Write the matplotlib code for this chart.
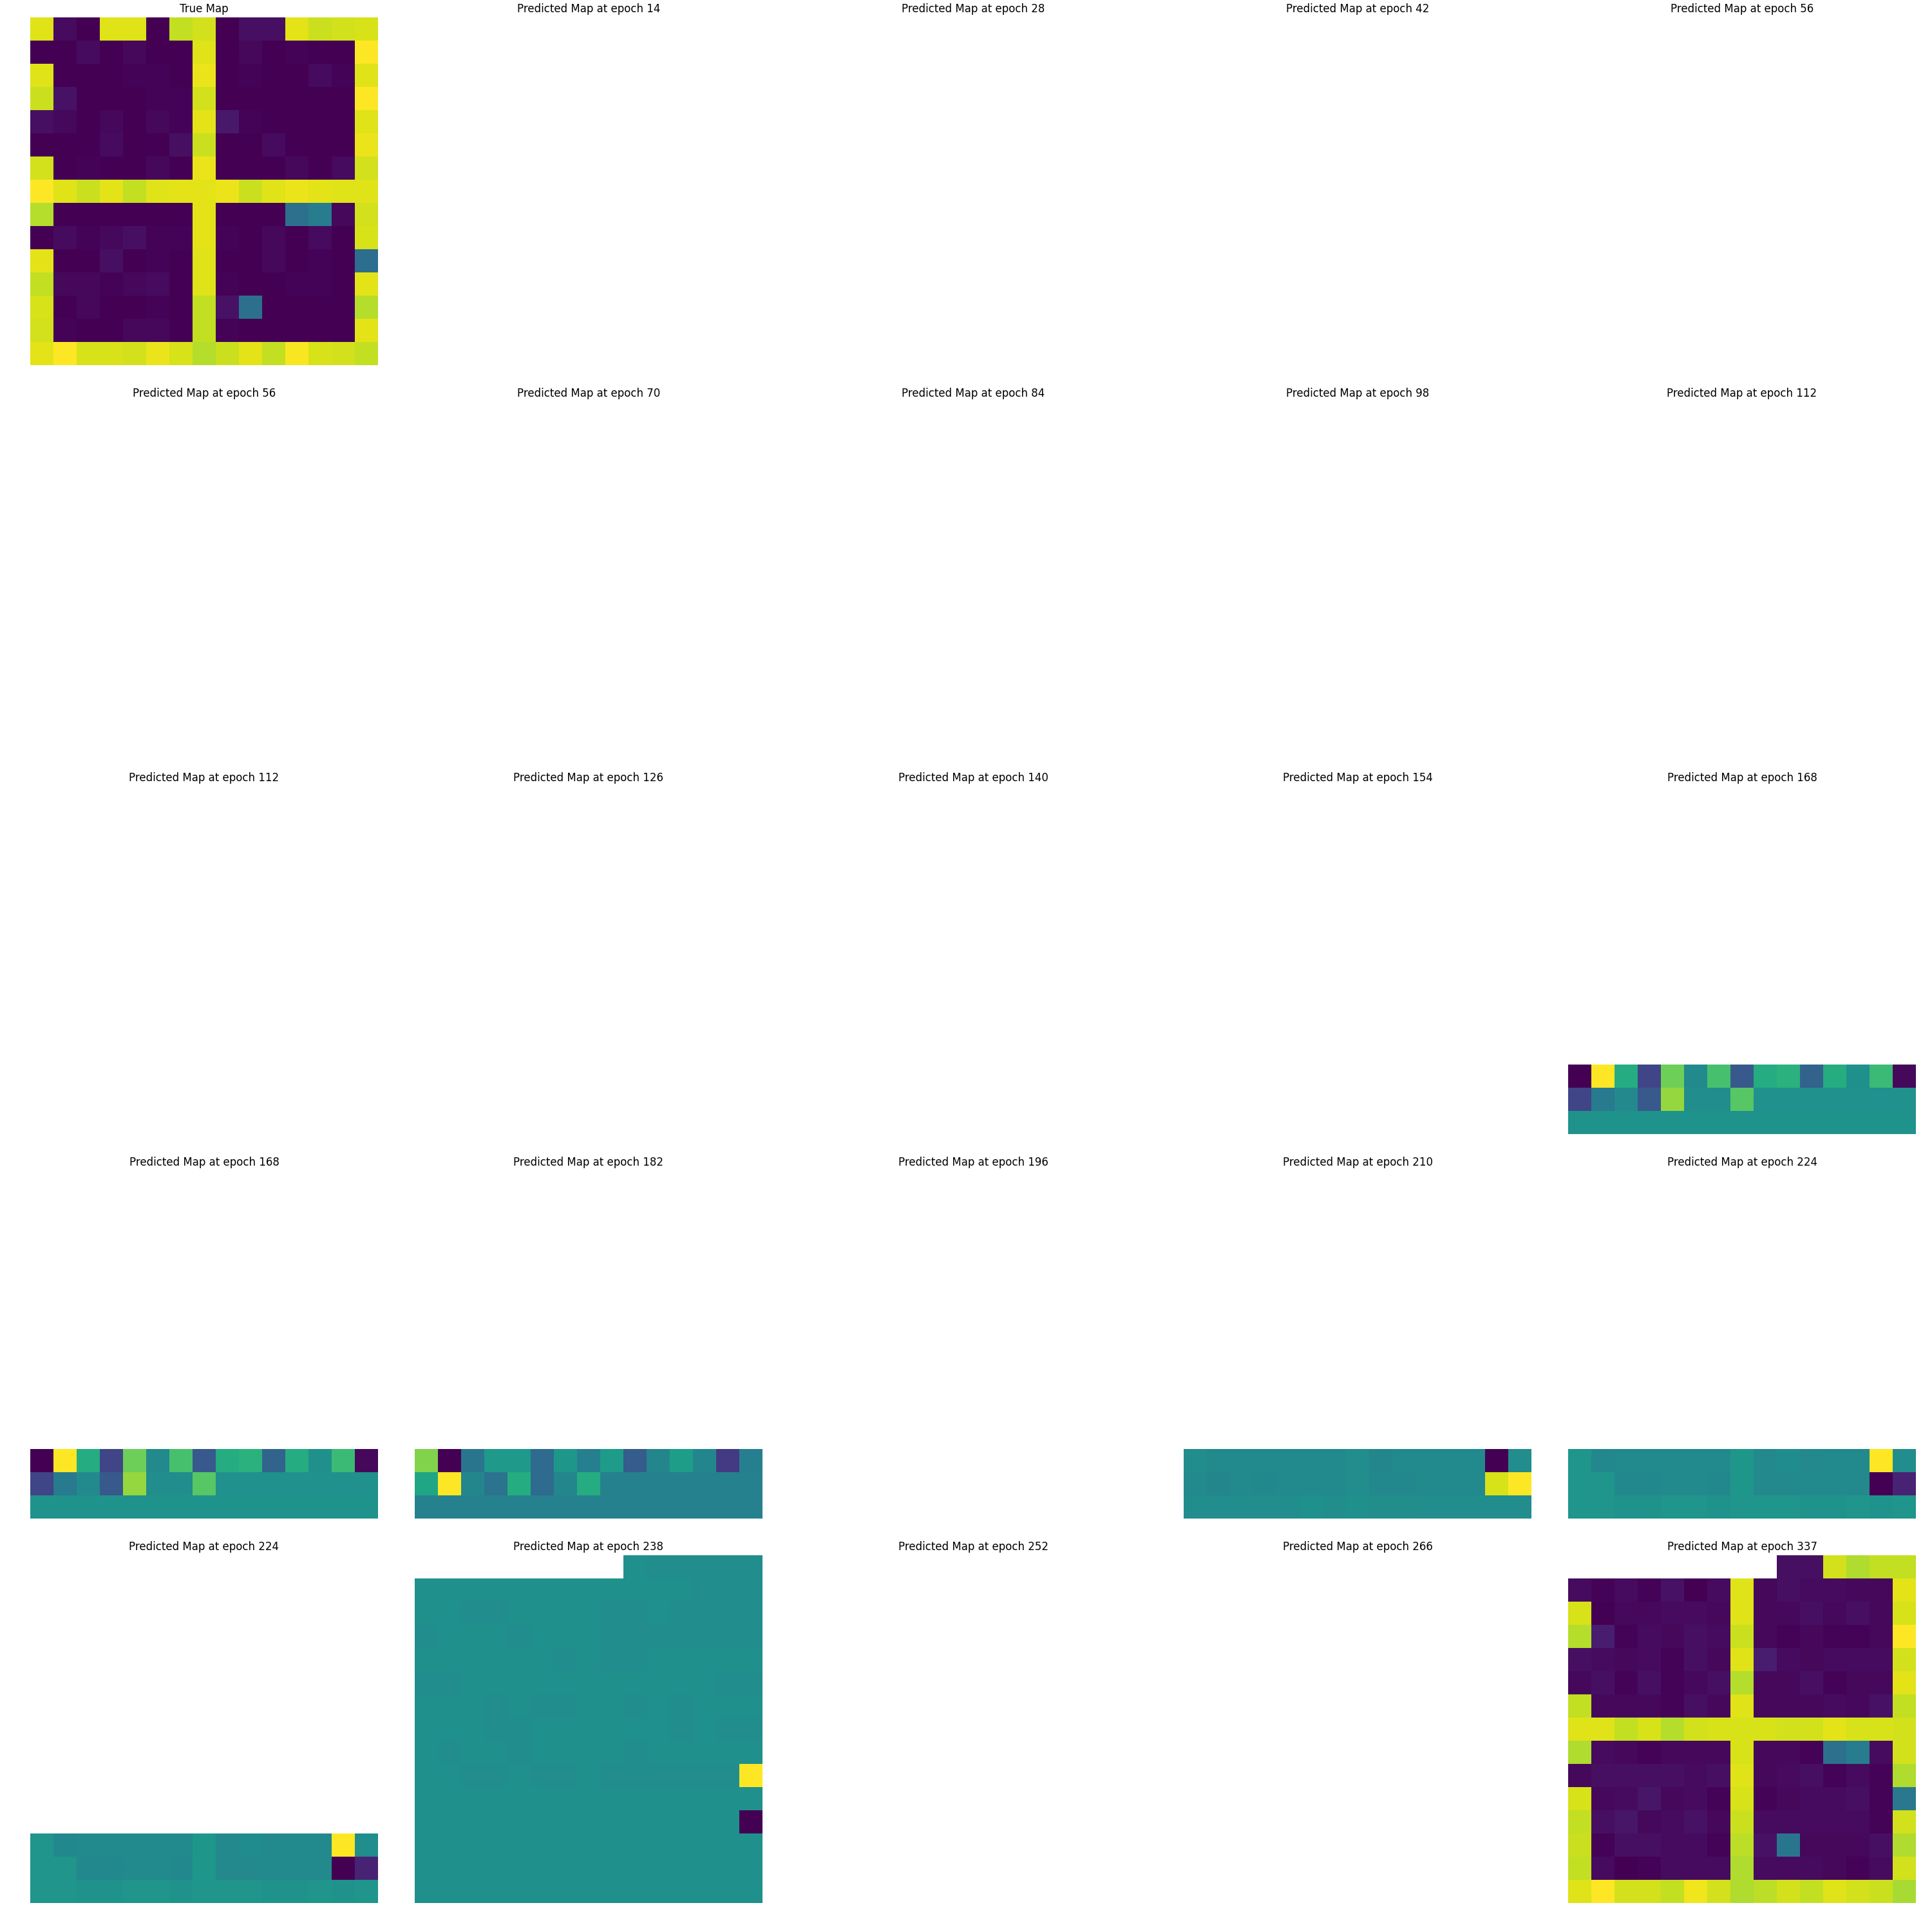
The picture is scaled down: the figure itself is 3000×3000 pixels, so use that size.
import numpy as np

import matplotlib
matplotlib.use('Agg')
import matplotlib.pyplot as plt

matplotlib.rcParams.update({'font.size': 10})

n = 15

# ground truth map (normalised 0..1)
true_map = [
    [0.95, 0.03, 0.00, 0.95, 0.95, 0.00, 0.91, 0.93, 0.00, 0.04, 0.04, 0.96, 0.92, 0.93, 0.94],
    [0.00, 0.00, 0.03, 0.00, 0.02, 0.00, 0.00, 0.95, 0.00, 0.02, 0.00, 0.01, 0.00, 0.00, 1.00],
    [0.95, 0.00, 0.00, 0.00, 0.01, 0.01, 0.00, 0.97, 0.00, 0.01, 0.00, 0.00, 0.03, 0.01, 0.95],
    [0.92, 0.05, 0.00, 0.00, 0.00, 0.01, 0.01, 0.93, 0.00, 0.00, 0.00, 0.00, 0.00, 0.00, 1.00],
    [0.04, 0.02, 0.00, 0.02, 0.00, 0.02, 0.01, 0.96, 0.07, 0.01, 0.00, 0.00, 0.00, 0.00, 0.95],
    [0.00, 0.00, 0.00, 0.03, 0.00, 0.00, 0.04, 0.92, 0.00, 0.00, 0.03, 0.00, 0.00, 0.00, 0.97],
    [0.93, 0.00, 0.01, 0.00, 0.00, 0.02, 0.00, 0.97, 0.00, 0.00, 0.00, 0.02, 0.00, 0.03, 0.93],
    [1.00, 0.95, 0.92, 0.96, 0.91, 0.95, 0.96, 0.96, 0.97, 0.92, 0.95, 0.97, 0.96, 0.95, 0.95],
    [0.89, 0.00, 0.00, 0.00, 0.00, 0.00, 0.00, 0.96, 0.00, 0.00, 0.00, 0.37, 0.42, 0.02, 0.93],
    [0.00, 0.03, 0.01, 0.02, 0.04, 0.01, 0.01, 0.96, 0.01, 0.00, 0.02, 0.00, 0.03, 0.00, 0.94],
    [0.96, 0.00, 0.00, 0.04, 0.00, 0.01, 0.00, 0.95, 0.00, 0.00, 0.02, 0.00, 0.01, 0.00, 0.36],
    [0.91, 0.02, 0.02, 0.01, 0.02, 0.03, 0.00, 0.95, 0.01, 0.00, 0.00, 0.01, 0.01, 0.00, 0.96],
    [0.94, 0.00, 0.02, 0.00, 0.00, 0.01, 0.00, 0.91, 0.05, 0.37, 0.00, 0.00, 0.00, 0.00, 0.89],
    [0.93, 0.01, 0.00, 0.00, 0.02, 0.02, 0.00, 0.91, 0.01, 0.00, 0.00, 0.00, 0.00, 0.00, 0.96],
    [0.96, 1.00, 0.94, 0.94, 0.93, 0.97, 0.94, 0.89, 0.92, 0.96, 0.91, 0.99, 0.94, 0.93, 0.91],
]

# predicted rows 12..14 (everything above still unknown)
pred_168 = [
    [0.00, 1.00, 0.62, 0.21, 0.78, 0.48, 0.71, 0.28, 0.62, 0.64, 0.32, 0.62, 0.50, 0.68, 0.02],
    [0.21, 0.41, 0.47, 0.28, 0.84, 0.49, 0.49, 0.74, 0.505, 0.505, 0.505, 0.505, 0.505, 0.505, 0.505],
    [0.515, 0.515, 0.515, 0.515, 0.515, 0.515, 0.515, 0.515, 0.515, 0.515, 0.515, 0.515, 0.515, 0.515, 0.515],
]
pred_182 = [
    [0.81, 0.00, 0.39, 0.54, 0.54, 0.35, 0.53, 0.43, 0.55, 0.29, 0.46, 0.56, 0.46, 0.17, 0.43],
    [0.59, 1.00, 0.46, 0.38, 0.62, 0.35, 0.46, 0.62, 0.44, 0.44, 0.44, 0.44, 0.44, 0.44, 0.44],
    [0.44, 0.44, 0.44, 0.44, 0.44, 0.44, 0.44, 0.44, 0.44, 0.44, 0.44, 0.44, 0.44, 0.44, 0.44],
]
pred_210 = [
    [0.49, 0.475, 0.475, 0.475, 0.475, 0.475, 0.475, 0.49, 0.46, 0.475, 0.475, 0.475, 0.475, 0.00, 0.49],
    [0.475, 0.46, 0.48, 0.465, 0.475, 0.475, 0.475, 0.49, 0.465, 0.465, 0.475, 0.475, 0.475, 0.94, 1.00],
    [0.49, 0.49, 0.49, 0.49, 0.49, 0.50, 0.495, 0.50, 0.495, 0.495, 0.49, 0.49, 0.49, 0.49, 0.49],
]
pred_224 = [
    [0.52, 0.465, 0.475, 0.475, 0.475, 0.475, 0.475, 0.53, 0.47, 0.485, 0.47, 0.475, 0.475, 1.00, 0.49],
    [0.52, 0.52, 0.465, 0.465, 0.48, 0.48, 0.465, 0.53, 0.47, 0.47, 0.48, 0.48, 0.47, 0.00, 0.10],
    [0.52, 0.52, 0.515, 0.515, 0.52, 0.52, 0.515, 0.52, 0.52, 0.52, 0.515, 0.515, 0.52, 0.515, 0.52],
]

# epoch 238: row 0 only known from column 9 on
pred_238_top = [0.50, 0.49, 0.49, 0.49, 0.49, 0.49]
pred_238 = [
    [0.50, 0.50, 0.50, 0.50, 0.50, 0.50, 0.50, 0.50, 0.50, 0.50, 0.50, 0.50, 0.49, 0.49, 0.49],
    [0.50, 0.50, 0.49, 0.49, 0.50, 0.50, 0.50, 0.50, 0.49, 0.49, 0.50, 0.49, 0.49, 0.49, 0.49],
    [0.49, 0.50, 0.50, 0.50, 0.49, 0.50, 0.50, 0.50, 0.49, 0.49, 0.49, 0.49, 0.49, 0.49, 0.49],
    [0.50, 0.50, 0.50, 0.50, 0.50, 0.50, 0.49, 0.50, 0.49, 0.49, 0.50, 0.50, 0.50, 0.50, 0.50],
    [0.49, 0.49, 0.50, 0.50, 0.50, 0.50, 0.50, 0.50, 0.50, 0.50, 0.50, 0.50, 0.50, 0.49, 0.49],
    [0.50, 0.50, 0.50, 0.49, 0.50, 0.49, 0.49, 0.50, 0.50, 0.49, 0.50, 0.49, 0.50, 0.50, 0.50],
    [0.50, 0.50, 0.50, 0.49, 0.49, 0.50, 0.50, 0.50, 0.50, 0.50, 0.50, 0.49, 0.50, 0.49, 0.49],
    [0.50, 0.49, 0.50, 0.50, 0.49, 0.50, 0.50, 0.50, 0.50, 0.49, 0.50, 0.50, 0.50, 0.50, 0.50],
    [0.50, 0.50, 0.49, 0.49, 0.50, 0.49, 0.49, 0.50, 0.49, 0.49, 0.49, 0.49, 0.49, 0.49, 1.00],
    [0.50, 0.50, 0.50, 0.50, 0.50, 0.50, 0.50, 0.50, 0.50, 0.50, 0.50, 0.50, 0.50, 0.50, 0.50],
    [0.50, 0.50, 0.50, 0.50, 0.50, 0.50, 0.50, 0.50, 0.50, 0.50, 0.50, 0.50, 0.50, 0.50, 0.00],
    [0.50, 0.50, 0.50, 0.50, 0.50, 0.50, 0.50, 0.50, 0.50, 0.50, 0.50, 0.50, 0.50, 0.50, 0.50],
    [0.50, 0.50, 0.50, 0.50, 0.50, 0.50, 0.50, 0.50, 0.50, 0.50, 0.50, 0.50, 0.50, 0.50, 0.50],
    [0.50, 0.50, 0.50, 0.50, 0.50, 0.50, 0.50, 0.50, 0.50, 0.50, 0.50, 0.50, 0.50, 0.50, 0.50],
]

# epoch 337: row 0 only known from column 9 on
pred_337_top = [0.04, 0.04, 0.93, 0.88, 0.91, 0.91]
pred_337 = [
    [0.03, 0.01, 0.03, 0.01, 0.05, 0.00, 0.03, 0.95, 0.02, 0.04, 0.03, 0.03, 0.02, 0.02, 0.96],
    [0.94, 0.00, 0.02, 0.02, 0.03, 0.03, 0.02, 0.95, 0.02, 0.02, 0.04, 0.02, 0.04, 0.02, 0.94],
    [0.89, 0.08, 0.01, 0.03, 0.02, 0.04, 0.03, 0.92, 0.02, 0.01, 0.02, 0.01, 0.01, 0.02, 1.00],
    [0.04, 0.03, 0.02, 0.03, 0.01, 0.04, 0.02, 0.95, 0.08, 0.03, 0.02, 0.03, 0.03, 0.03, 0.93],
    [0.02, 0.04, 0.01, 0.04, 0.01, 0.02, 0.04, 0.89, 0.02, 0.02, 0.04, 0.01, 0.02, 0.02, 0.96],
    [0.91, 0.02, 0.02, 0.02, 0.01, 0.04, 0.02, 0.95, 0.02, 0.02, 0.02, 0.03, 0.02, 0.05, 0.91],
    [0.95, 0.95, 0.91, 0.94, 0.89, 0.93, 0.94, 0.94, 0.94, 0.93, 0.93, 0.96, 0.94, 0.94, 0.93],
    [0.88, 0.03, 0.02, 0.01, 0.02, 0.02, 0.02, 0.94, 0.02, 0.02, 0.01, 0.37, 0.42, 0.03, 0.93],
    [0.02, 0.04, 0.04, 0.04, 0.04, 0.03, 0.04, 0.95, 0.02, 0.03, 0.04, 0.01, 0.03, 0.01, 0.88],
    [0.94, 0.02, 0.03, 0.06, 0.02, 0.03, 0.01, 0.94, 0.01, 0.02, 0.03, 0.03, 0.04, 0.01, 0.40],
    [0.91, 0.04, 0.06, 0.02, 0.03, 0.05, 0.02, 0.92, 0.03, 0.03, 0.03, 0.03, 0.03, 0.01, 0.93],
    [0.92, 0.01, 0.04, 0.04, 0.03, 0.03, 0.01, 0.90, 0.05, 0.39, 0.02, 0.02, 0.02, 0.04, 0.88],
    [0.91, 0.03, 0.00, 0.01, 0.03, 0.03, 0.03, 0.88, 0.03, 0.03, 0.03, 0.02, 0.01, 0.03, 0.93],
    [0.95, 1.00, 0.93, 0.93, 0.91, 0.98, 0.93, 0.88, 0.90, 0.93, 0.91, 0.95, 0.93, 0.92, 0.87],
]

epochs = [14, 28, 42, 56, 56, 70, 84, 98, 112, 112, 126, 140, 154, 168,
          168, 182, 196, 210, 224, 224, 238, 252, 266, 337]


def bottom_rows(rows):
    m = np.full((n, n), np.nan)
    m[n - len(rows):, :] = rows
    return m


def almost_full(top, rows):
    m = np.full((n, n), np.nan)
    m[0, n - len(top):] = top
    m[1:, :] = rows
    return m


empty = np.full((n, n), np.nan)
maps = {168: bottom_rows(pred_168), 182: bottom_rows(pred_182),
        210: bottom_rows(pred_210), 224: bottom_rows(pred_224),
        238: almost_full(pred_238_top, pred_238),
        337: almost_full(pred_337_top, pred_337)}

fig, axes = plt.subplots(5, 5, figsize=(30, 30))
plt.subplots_adjust(left=47/3000., right=2975/3000., top=1-27/3000., bottom=45/3000.,
                    wspace=0.1056, hspace=0.1056)
axes = axes.flatten()

axes[0].imshow(np.array(true_map), cmap='viridis')
axes[0].set_title('True Map')
axes[0].axis('off')

for k, ep in enumerate(epochs):
    ax = axes[k + 1]
    m = maps.get(ep, empty)
    if np.isnan(m).all():
        ax.imshow(m, cmap='viridis', vmin=0, vmax=1)
    else:
        ax.imshow(m, cmap='viridis')
    ax.set_title('Predicted Map at epoch %d' % ep)
    ax.axis('off')

plt.savefig('out.png', dpi=100)
